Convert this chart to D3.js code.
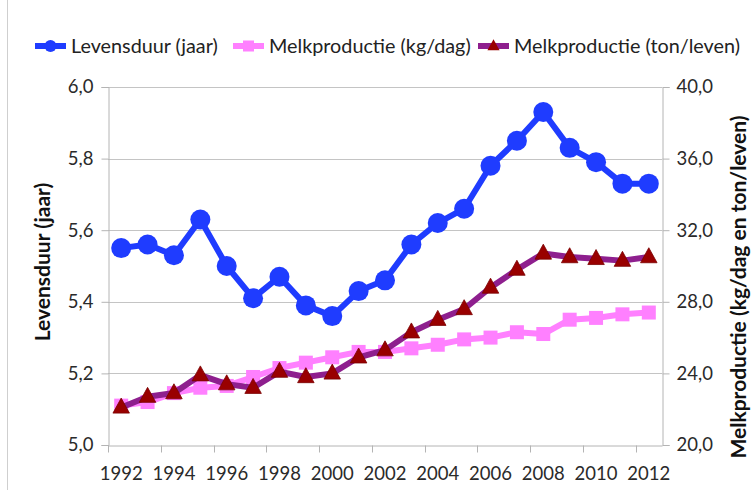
<!DOCTYPE html>
<html>
<head>
<meta charset="utf-8">
<script src="https://cdn.jsdelivr.net/npm/d3@7/dist/d3.min.js"></script>
<style>
  body { margin: 0; background: #fff; }
  svg { display: block; font-family: Lato, "Open Sans", sans-serif; }
</style>
</head>
<body>
<div id="chart"></div>
<script>
// data
var years = [1992, 1993, 1994, 1995, 1996, 1997, 1998, 1999, 2000, 2001, 2002,
             2003, 2004, 2005, 2006, 2007, 2008, 2009, 2010, 2011, 2012];
var levensduur = [5.55, 5.56, 5.53, 5.63, 5.50, 5.41, 5.47, 5.39, 5.36, 5.43, 5.46,
                  5.56, 5.62, 5.66, 5.78, 5.85, 5.93, 5.83, 5.79, 5.73, 5.73];
var melkKgDag = [22.2, 22.4, 22.9, 23.2, 23.3, 23.8, 24.3, 24.6, 24.9, 25.2, 25.2,
                 25.4, 25.6, 25.9, 26.0, 26.3, 26.2, 27.0, 27.1, 27.3, 27.4];
var melkTonLeven = [22.1, 22.7, 22.9, 23.9, 23.4, 23.2, 24.1, 23.8, 24.0, 24.9, 25.3,
                    26.3, 27.0, 27.6, 28.8, 29.8, 30.7, 30.5, 30.4, 30.3, 30.5];
var leftTicks = [5.0, 5.2, 5.4, 5.6, 5.8, 6.0];
var rightTicks = [20, 24, 28, 32, 36, 40];
var yearLabels = [1992, 1994, 1996, 1998, 2000, 2002, 2004, 2006, 2008, 2010, 2012];
var seriesNames = ['Levensduur (jaar)', 'Melkproductie (kg/dag)', 'Melkproductie (ton/leven)'];

var width = 755, height = 490;
var margin = {t: 87, r: 93, b: 45, l: 108};
var blue = '#1f3cff', pink = '#ff80ff', purple = '#8e1f8e', darkRed = '#990000';
var gridColor = '#c4c4c4', axisColor = '#b4b4b4', textColor = '#2a2a2a';

var svg = d3.select('#chart').append('svg')
  .attr('width', width)
  .attr('height', height);

var x = d3.scaleBand().domain(years).range([margin.l, width - margin.r]);
var yLeft = d3.scaleLinear().domain([5, 6]).range([height - margin.b, margin.t]);
var yRight = d3.scaleLinear().domain([20, 40]).range([height - margin.b, margin.t]);
var cx = function(d, i) { return x(years[i]) + x.bandwidth() / 2; };
var comma = function(d) { return d3.format('.1f')(d).replace('.', ','); };

// frame line at the left edge
svg.append('line')
  .attr('x1', 7.5).attr('x2', 7.5).attr('y1', 0).attr('y2', height)
  .attr('stroke', '#cfcfcf');

// gridlines
svg.append('g').selectAll('line')
  .data(leftTicks.slice(1))
  .enter().append('line')
  .attr('x1', margin.l).attr('x2', width - margin.r)
  .attr('y1', function(d) { return Math.round(yLeft(d)) + 0.5; })
  .attr('y2', function(d) { return Math.round(yLeft(d)) + 0.5; })
  .attr('stroke', gridColor);

// left axis
var gLeft = svg.append('g')
  .attr('transform', 'translate(' + (margin.l + 0.5) + ',0)')
  .call(d3.axisLeft(yLeft).tickValues(leftTicks).tickFormat(comma).tickSize(7).tickPadding(8));

// right axis
var gRight = svg.append('g')
  .attr('transform', 'translate(' + (width - margin.r + 0.5) + ',0)')
  .call(d3.axisRight(yRight).tickValues(rightTicks).tickFormat(comma).tickSize(7).tickPadding(7));

// bottom axis: labels on category centres, ticks on every second category boundary
var gBottom = svg.append('g')
  .attr('transform', 'translate(0,' + (height - margin.b + 0.5) + ')')
  .call(d3.axisBottom(x).tickValues(yearLabels).tickSize(0).tickPadding(21));
gBottom.selectAll('.tick line').remove();
gBottom.selectAll('.boundary')
  .data(yearLabels)
  .enter().append('line')
  .attr('class', 'boundary')
  .attr('x1', function(d) { return Math.round(x(d)) + 0.5; })
  .attr('x2', function(d) { return Math.round(x(d)) + 0.5; })
  .attr('y1', 0).attr('y2', 7)
  .attr('stroke', axisColor);

[gLeft, gRight, gBottom].forEach(function(g) {
  g.select('.domain').attr('stroke', axisColor);
  g.selectAll('.tick line').attr('stroke', axisColor);
  g.selectAll('.tick text')
    .attr('fill', textColor)
    .style('font-size', '18.5px')
    .style('font-family', 'Lato, sans-serif');
});

// axis titles
svg.append('text')
  .attr('transform', 'translate(45,' + ((margin.t + height - margin.b) / 2 - 4) + ') rotate(-90)')
  .attr('text-anchor', 'middle')
  .attr('dominant-baseline', 'middle')
  .attr('font-weight', 'bold')
  .attr('font-size', 21)
  .attr('fill', '#111')
  .text('Levensduur (jaar)');

svg.append('text')
  .attr('transform', 'translate(741,287) rotate(-90)')
  .attr('text-anchor', 'middle')
  .attr('dominant-baseline', 'middle')
  .attr('font-weight', 'bold')
  .attr('font-size', 21)
  .attr('fill', '#111')
  .text('Melkproductie (kg/dag en ton/leven)');

// series
var lineLeft = d3.line().x(cx).y(function(d) { return yLeft(d); });
var lineRight = d3.line().x(cx).y(function(d) { return yRight(d); });
var triangle = function(s) {
  return 'M0,' + (-s * 0.62) + 'L' + (s * 0.55) + ',' + (s * 0.38) + 'L' + (-s * 0.55) + ',' + (s * 0.38) + 'Z';
};

// Levensduur
svg.append('path')
  .datum(levensduur)
  .attr('d', lineLeft)
  .attr('fill', 'none')
  .attr('stroke', blue)
  .attr('stroke-width', 6)
  .attr('stroke-linejoin', 'round');
svg.append('g').selectAll('circle')
  .data(levensduur)
  .enter().append('circle')
  .attr('cx', cx)
  .attr('cy', function(d) { return yLeft(d); })
  .attr('r', 10)
  .attr('fill', blue);

// Melkproductie kg/dag
svg.append('path')
  .datum(melkKgDag)
  .attr('d', lineRight)
  .attr('fill', 'none')
  .attr('stroke', pink)
  .attr('stroke-width', 6)
  .attr('stroke-linejoin', 'round');
svg.append('g').selectAll('rect')
  .data(melkKgDag)
  .enter().append('rect')
  .attr('x', function(d, i) { return cx(d, i) - 7; })
  .attr('y', function(d) { return yRight(d) - 7; })
  .attr('width', 14).attr('height', 14)
  .attr('fill', pink);

// Melkproductie ton/leven
svg.append('path')
  .datum(melkTonLeven)
  .attr('d', lineRight)
  .attr('fill', 'none')
  .attr('stroke', purple)
  .attr('stroke-width', 6)
  .attr('stroke-linejoin', 'round');
svg.append('g').selectAll('path')
  .data(melkTonLeven)
  .enter().append('path')
  .attr('transform', function(d, i) { return 'translate(' + cx(d, i) + ',' + yRight(d) + ')'; })
  .attr('d', triangle(15))
  .attr('fill', darkRed)
  .attr('stroke', '#7a0000')
  .attr('stroke-width', 0.8);

// legend
var legendItems = [
  {name: seriesNames[0], color: blue, marker: 'circle', x0: 35},
  {name: seriesNames[1], color: pink, marker: 'square', x0: 233},
  {name: seriesNames[2], color: purple, marker: 'triangle', x0: 478}
];
var legend = svg.append('g').attr('transform', 'translate(0,46)');
var item = legend.selectAll('g')
  .data(legendItems)
  .enter().append('g')
  .attr('transform', function(d) { return 'translate(' + d.x0 + ',0)'; });
item.append('line')
  .attr('x1', 0).attr('x2', 31)
  .attr('stroke', function(d) { return d.color; })
  .attr('stroke-width', 6);
item.each(function(d) {
  var g = d3.select(this);
  if (d.marker === 'circle') {
    g.append('circle').attr('cx', 15.5).attr('r', 6).attr('fill', blue);
  } else if (d.marker === 'square') {
    g.append('rect').attr('x', 10).attr('y', -5.5).attr('width', 11).attr('height', 11).attr('fill', pink);
  } else {
    g.append('path').attr('transform', 'translate(15.5,0)').attr('d', triangle(11)).attr('fill', darkRed);
  }
});
item.append('text')
  .attr('x', 36)
  .attr('y', 7)
  .attr('font-size', 19.8)
  .attr('fill', '#222')
  .text(function(d) { return d.name; });
</script>
</body>
</html>
